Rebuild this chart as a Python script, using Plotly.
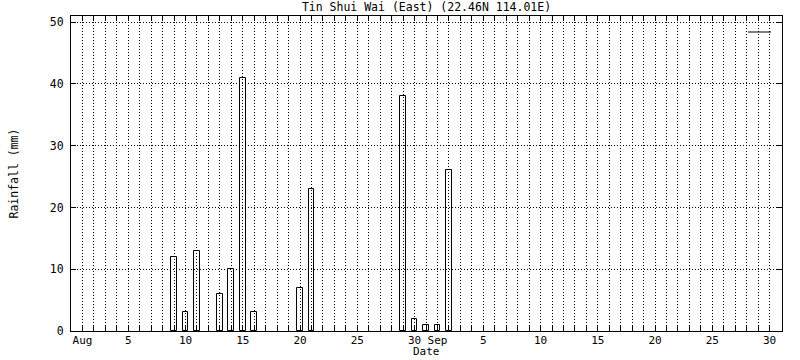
import datetime as dt
import plotly.graph_objects as go

# Data (daily rainfall, mm)
dates = ["2023-08-09", "2023-08-10", "2023-08-11", "2023-08-13", "2023-08-14",
         "2023-08-15", "2023-08-16", "2023-08-20", "2023-08-21", "2023-08-29",
         "2023-08-30", "2023-08-31", "2023-09-01", "2023-09-02"]
rainfall = [12, 3, 13, 6, 10, 41, 3, 7, 23, 38, 2, 1, 1, 26]

title = "Tin Shui Wai (East) (22.46N 114.01E)"
x_title = "Date"
y_title = "Rainfall (mm)"

# x ticks: every day, labelled on month starts and every 5th day
start = dt.date(2023, 8, 1)
end = dt.date(2023, 9, 30)
tick_days = [start + dt.timedelta(days=i) for i in range((end - start).days + 1)]
tick_vals = [d.isoformat() for d in tick_days]
tick_text = []
for d in tick_days:
    if d.day == 1:
        tick_text.append(d.strftime("%b"))
    elif d.day % 5 == 0:
        tick_text.append(str(d.day))
    else:
        tick_text.append("")

FONT = "DejaVu Sans Mono"
fs = 11.5
fsx = 11
W, H = 800, 360
L, R, T, B = 71, 18, 16, 29
PW, PH = W - L - R, H - T - B

fig = go.Figure()
fig.add_trace(go.Bar(
    x=dates, y=rainfall,
    width=0.5 * 86400000,
    marker=dict(color="rgba(0,0,0,0)", line=dict(color="black", width=1)),
    showlegend=False,
))

fig.update_layout(
    width=W, height=H,
    margin=dict(l=L, r=R, t=T, b=B, autoexpand=False),
    paper_bgcolor="white", plot_bgcolor="white",
    font=dict(family=FONT, size=fs, color="black"),
    title=dict(text=title, x=0.5, xanchor="center", xref="paper",
               y=1 - 6.5 / H, yref="container", yanchor="middle",
               font=dict(family=FONT, size=fs, color="black")),
    bargap=0,
)

fig.update_xaxes(
    type="date", automargin=False,
    range=["2023-07-31", "2023-10-01 02:00"],
    tickmode="array", tickvals=tick_vals, ticktext=tick_text,
    ticks="inside", ticklen=5, tickcolor="black", tickwidth=1,
    ticklabelstandoff=-1,
    showline=True, linecolor="black", linewidth=1, mirror="ticks",
    showgrid=True, gridcolor="black", gridwidth=1, griddash="1px,2px",
    tickfont=dict(family=FONT, size=fsx, color="black"),
    zeroline=False,
)
fig.update_yaxes(
    automargin=False,
    range=[0, 51], tick0=0, dtick=10,
    ticks="inside", ticklen=5, tickcolor="black", tickwidth=1,
    ticklabelstandoff=4,
    showline=True, linecolor="black", linewidth=1, mirror="ticks",
    showgrid=True, gridcolor="black", gridwidth=1, griddash="1px,2px",
    tickfont=dict(family=FONT, size=fs, color="black"),
    zeroline=False,
)

# axis titles
fig.add_annotation(text=x_title, xref="paper", yref="paper",
                   x=0.5, y=-(H - (T + PH)) / PH, xanchor="center", yanchor="bottom",
                   showarrow=False, font=dict(family=FONT, size=fsx, color="black"))
fig.add_annotation(text=y_title, xref="paper", yref="paper",
                   x=(13 - L) / PW, y=0.5, xanchor="center", yanchor="middle",
                   textangle=-90, showarrow=False,
                   font=dict(family=FONT, size=fs, color="black"))

# legend key (empty-title series key, drawn as a short line)
fig.add_shape(type="line", xref="paper", yref="paper",
              x0=(748 - L) / PW, x1=(771 - L) / PW,
              y0=(T + PH - 32) / PH, y1=(T + PH - 32) / PH,
              line=dict(color="black", width=1))

fig.write_html("out.html")
